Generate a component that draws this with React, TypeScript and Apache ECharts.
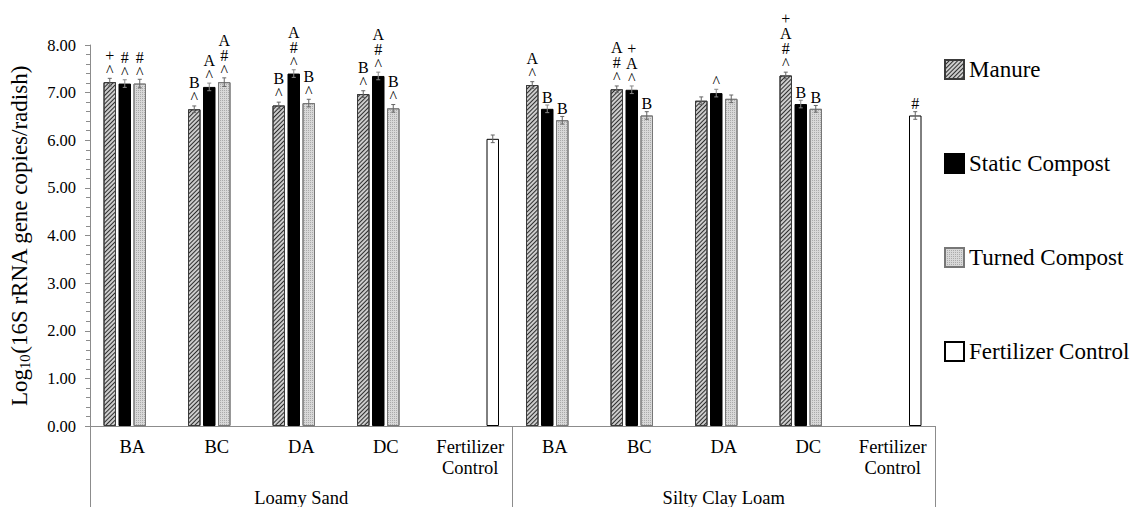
import React, { useEffect, useRef } from "react";
import * as echarts from "echarts";

const categories = ["BA", "BC", "DA", "DC", "Fertilizer\nControl", "BA", "BC", "DA", "DC", "Fertilizer\nControl"];
const soilGroups = ["Loamy Sand", "Silty Clay Loam"];
const seriesNames = ["Manure", "Static Compost", "Turned Compost", "Fertilizer Control"];

const manure = [7.22, 6.65, 6.73, 6.97, null, 7.16, 7.07, 6.83, 7.36, null];
const staticCompost = [7.19, 7.12, 7.4, 7.35, null, 6.66, 7.06, 6.99, 6.76, null];
const turnedCompost = [7.19, 7.22, 6.78, 6.67, null, 6.42, 6.52, 6.87, 6.66, null];
const fertilizer = [null, null, null, null, 6.03, null, null, null, null, 6.52];

const manureErr = [0.08, 0.07, 0.07, 0.07, null, 0.07, 0.07, 0.08, 0.07, null];
const staticErr = [0.08, 0.08, 0.08, 0.08, null, 0.08, 0.08, 0.08, 0.08, null];
const turnedErr = [0.09, 0.09, 0.08, 0.08, null, 0.08, 0.08, 0.08, 0.07, null];
const fertErr = [null, null, null, null, 0.08, null, null, null, null, 0.08];

const manureMarks = ["+\n^", "B\n^", "B\n^", "B\n^", "", "A\n^", "A\n#\n^", "", "+\nA\n#\n^", ""];
const staticMarks = ["#\n^", "A\n^", "A\n#\n^", "A\n#\n^", "", "B", "+\nA\n^", "^", "B", ""];
const turnedMarks = ["#\n^", "A\n#\n^", "B\n^", "B\n^", "", "B", "B", "", "B", ""];
const fertMarks = ["", "", "", "", "", "", "", "", "", "#"];

const yTicks = [0, 1, 2, 3, 4, 5, 6, 7, 8];

const SERIF = "Liberation Serif";
const BAR_W = 12.5;
const BAR_GAP = 0.2;

export default function App() {
  const ref = useRef<HTMLDivElement>(null);
  useEffect(() => {
    if (!ref.current) return;
    const chart = echarts.init(ref.current, null, { renderer: "svg" });
    const values = [manure, staticCompost, turnedCompost, fertilizer];
    const errs = [manureErr, staticErr, turnedErr, fertErr];
    const marks = [manureMarks, staticMarks, turnedMarks, fertMarks];
    const styles = [
      {
        color: "#cccccc",
        borderColor: "#3a3a3a",
        borderWidth: 1,
        decal: {
          symbol: "rect",
          symbolSize: 1,
          dashArrayX: [1, 0],
          dashArrayY: [1, 1.5],
          rotation: -Math.PI / 4,
          color: "#2e2e2e",
        },
      },
      { color: "#000", borderColor: "#000", borderWidth: 1 },
      {
        color: "#d8d8d8",
        borderColor: "#777",
        borderWidth: 1,
        decal: {
          symbol: "rect",
          symbolSize: 1,
          dashArrayX: [1, 1],
          dashArrayY: [1, 1],
          rotation: 0,
          color: "#aaa",
        },
      },
      { color: "#fff", borderColor: "#000", borderWidth: 1 },
    ];
    const step = BAR_W * (1 + BAR_GAP);
    const barSeries = values.map((vals, i) => ({
      name: seriesNames[i],
      type: "bar",
      barWidth: BAR_W,
      barGap: BAR_GAP * 100 + "%",
      data: vals.map((v) => (v == null ? "-" : v)),
      itemStyle: styles[i],
      label: {
        show: true,
        position: "top",
        distance: 4,
        formatter: (p: any) => marks[i][p.dataIndex] || "",
        fontFamily: SERIF,
        fontSize: 16,
        lineHeight: 15,
        color: "#000",
      },
      z: 2,
    }));
    const errSeries = values.map((vals, i) => ({
      name: "err" + i,
      type: "custom",
      z: 3,
      silent: true,
      data: vals
        .map((v, ci) => (v == null ? null : [ci, v, errs[i][ci] as number]))
        .filter((d) => d != null),
      encode: { x: 0, y: 1 },
      renderItem: (params: any, api: any) => {
        const ci = api.value(0);
        const v = api.value(1);
        const e = api.value(2);
        const top = api.coord([ci, v + e]);
        const bot = api.coord([ci, v - e]);
        const x = top[0] + (i - 1.5) * step;
        const st = { stroke: i === 1 ? "#888" : "#666", lineWidth: 1 };
        return {
          type: "group",
          children: [
            { type: "line", shape: { x1: x, y1: top[1], x2: x, y2: bot[1] }, style: st },
            { type: "line", shape: { x1: x - 2, y1: top[1], x2: x + 2, y2: top[1] }, style: st },
            { type: "line", shape: { x1: x - 2, y1: bot[1], x2: x + 2, y2: bot[1] }, style: st },
          ],
        };
      },
    }));

    chart.setOption({
      animation: false,
      backgroundColor: "#fff",
      textStyle: { fontFamily: SERIF },
      grid: { left: 90, right: 197, top: 45, bottom: 81, outerBoundsMode: "none", containLabel: false },
      legend: {
        data: seriesNames,
        orient: "vertical",
        left: 939,
        top: 53,
        itemGap: 71,
        itemWidth: 19,
        itemHeight: 19,
        icon: "rect",
        textStyle: { fontFamily: SERIF, fontSize: 23, color: "#000" },
      },
      xAxis: [
        {
          type: "category",
          position: "bottom",
          data: categories,
          axisLine: { lineStyle: { color: "#8c8c8c", width: 1 } },
          axisTick: { show: false },
          axisLabel: {
            interval: 0,
            margin: 10,
            fontFamily: SERIF,
            fontSize: 18.5,
            lineHeight: 21,
            color: "#000",
          },
        },
        {
          type: "category",
          position: "bottom",
          offset: 0,
          data: soilGroups,
          axisLine: { show: false },
          axisTick: { show: true, length: 82, lineStyle: { color: "#8c8c8c", width: 1 } },
          axisLabel: { margin: 62, fontFamily: SERIF, fontSize: 18.5, lineHeight: 20, color: "#000" },
        },
      ],
      yAxis: {
        type: "value",
        min: yTicks[0],
        max: yTicks[yTicks.length - 1],
        interval: 1,
        name: "{t|Log}{s|10}{t|(16S rRNA gene copies/radish)}",
        nameLocation: "middle",
        nameGap: 58,
        nameRotate: 90,
        nameTextStyle: {
          fontFamily: SERIF,
          fontSize: 23,
          color: "#000",
          rich: {
            t: { fontFamily: SERIF, fontSize: 23, color: "#000", lineHeight: 25 },
            s: { fontFamily: SERIF, fontSize: 14.5, color: "#000", verticalAlign: "bottom", lineHeight: 25, padding: [10, 0, 0, 0] },
          },
        },
        axisLine: { show: true, lineStyle: { color: "#8c8c8c", width: 1 } },
        axisTick: { show: true, length: 5, lineStyle: { color: "#8c8c8c" } },
        minorTick: { show: true, splitNumber: 5, length: 4, lineStyle: { color: "#8c8c8c" } },
        splitLine: { show: false },
        axisLabel: {
          margin: 14,
          formatter: (v: number) => v.toFixed(2),
          fontFamily: SERIF,
          fontSize: 16.5,
          color: "#000",
        },
      },
      series: [...barSeries, ...errSeries],
    } as any);
    return () => chart.dispose();
  }, []);
  return <div ref={ref} style={{ width: 1132, height: 507, position: "absolute", left: 0, top: 0 }} />;
}
